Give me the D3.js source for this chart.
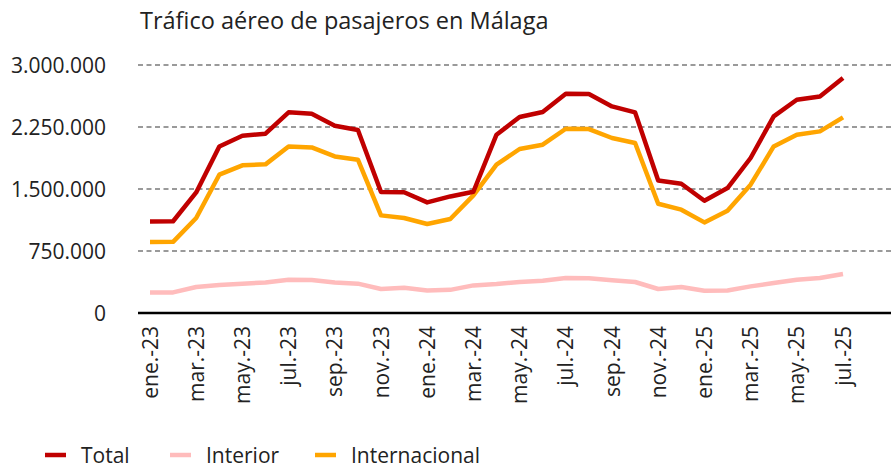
<!DOCTYPE html>
<html>
<head>
<meta charset="utf-8">
<script src="https://cdn.jsdelivr.net/npm/d3@7"></script>
<style>
  body { margin: 0; background: #fff; }
  svg text { font-family: "Open Sans", "Noto Sans", sans-serif; fill: #222; }
</style>
</head>
<body>
<div id="root"></div>
<script>
const width = 891;
const height = 468;

const months = [
  "ene.-23", "feb.-23", "mar.-23", "abr.-23", "may.-23", "jun.-23",
  "jul.-23", "ago.-23", "sep.-23", "oct.-23", "nov.-23", "dic.-23",
  "ene.-24", "feb.-24", "mar.-24", "abr.-24", "may.-24", "jun.-24",
  "jul.-24", "ago.-24", "sep.-24", "oct.-24", "nov.-24", "dic.-24",
  "ene.-25", "feb.-25", "mar.-25", "abr.-25", "may.-25", "jun.-25",
  "jul.-25",
];

const total = [
  1108000, 1110000, 1459000, 2015000, 2145000, 2169000, 2427000, 2410000,
  2266000, 2214000, 1464000, 1460000, 1338000, 1410000, 1467000, 2157000,
  2371000, 2431000, 2653000, 2649000, 2499000, 2427000, 1604000, 1564000,
  1358000, 1512000, 1875000, 2378000, 2580000, 2620000, 2843000,
];
const interior = [
  249000, 249000, 315000, 339000, 355000, 370000, 403000, 400000,
  370000, 355000, 290000, 306000, 273000, 280000, 334000, 350000,
  375000, 390000, 423000, 420000, 395000, 375000, 290000, 315000,
  270000, 273000, 322000, 363000, 403000, 423000, 472000,
];
const internacional = [
  859000, 861000, 1149000, 1673000, 1786000, 1798000, 2015000, 2003000,
  1894000, 1854000, 1181000, 1149000, 1077000, 1137000, 1423000, 1794000,
  1984000, 2036000, 2229000, 2225000, 2117000, 2056000, 1322000, 1250000,
  1096000, 1238000, 1552000, 2015000, 2157000, 2197000, 2366000,
];
const yTicks = [0, 750000, 1500000, 2250000, 3000000];

const series = [
  { name: "Total", values: total, color: "#c00000" },
  { name: "Interior", values: interior, color: "#ffbcbc" },
  { name: "Internacional", values: internacional, color: "#ffa500" },
];

const locale = d3.formatLocale({
  decimal: ",",
  thousands: ".",
  grouping: [3],
  currency: ["", " €"],
});
const fmt = locale.format(",d");

const plotLeft = 138;
const plotRight = 891;

const svg = d3
  .select("#root")
  .append("svg")
  .attr("width", width)
  .attr("height", height);

const x = d3.scalePoint().domain(months).range([150, 843]);
const y = d3.scaleLinear().domain([0, 3000000]).range([313, 65]);

// Title
svg
  .append("text")
  .attr("x", 140)
  .attr("y", 29)
  .attr("font-size", 23.5)
  .text("Tráfico aéreo de pasajeros en Málaga");

// Gridlines + y labels
const grid = svg.append("g");
grid
  .selectAll("line")
  .data(yTicks.filter((d) => d > 0))
  .enter()
  .append("line")
  .attr("x1", plotLeft)
  .attr("x2", plotRight)
  .attr("y1", (d) => y(d))
  .attr("y2", (d) => y(d))
  .attr("stroke", "#9a9a9a")
  .attr("stroke-width", 2)
  .attr("stroke-dasharray", "5,3.5");

grid
  .selectAll("text")
  .data(yTicks)
  .enter()
  .append("text")
  .attr("x", 106)
  .attr("y", (d) => y(d))
  .attr("dy", "0.36em")
  .attr("text-anchor", "end")
  .attr("font-size", 21)
  .text((d) => fmt(d));

// x axis line
svg
  .append("line")
  .attr("x1", plotLeft)
  .attr("x2", plotRight)
  .attr("y1", y(0))
  .attr("y2", y(0))
  .attr("stroke", "#000")
  .attr("stroke-width", 2.5);

// x labels, every second month
svg
  .append("g")
  .selectAll("text")
  .data(months.filter((d, i) => i % 2 === 0))
  .enter()
  .append("text")
  .attr("transform", (d) => `translate(${x(d)},326) rotate(-90)`)
  .attr("dy", "0.36em")
  .attr("text-anchor", "end")
  .attr("font-size", 21)
  .text((d) => d);

// Lines
const line = d3
  .line()
  .x((d, i) => x(months[i]))
  .y((d) => y(d));

svg
  .append("g")
  .selectAll("path")
  .data(series.slice().reverse())
  .enter()
  .append("path")
  .attr("fill", "none")
  .attr("stroke", (s) => s.color)
  .attr("stroke-width", 4.5)
  .attr("stroke-linejoin", "round")
  .attr("d", (s) => line(s.values));

// Legend
const legendX = [45, 170, 315];
const legend = svg
  .append("g")
  .selectAll("g")
  .data(series)
  .enter()
  .append("g")
  .attr("transform", (s, i) => `translate(${legendX[i]},455)`);

legend
  .append("line")
  .attr("x1", 0)
  .attr("x2", 21)
  .attr("stroke", (s) => s.color)
  .attr("stroke-width", 4.5);

legend
  .append("text")
  .attr("x", 36)
  .attr("dy", "0.36em")
  .attr("font-size", 21)
  .text((s) => s.name);
</script>
</body>
</html>
